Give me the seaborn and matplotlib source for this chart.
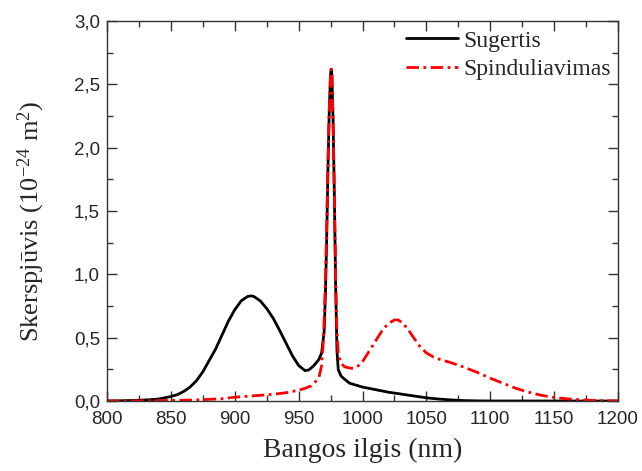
import numpy as np
import pandas as pd
import seaborn as sns
import matplotlib
matplotlib.use("Agg")
import matplotlib.pyplot as plt
from matplotlib.ticker import FuncFormatter, MultipleLocator

# --- data ---
abs_wl = [800, 810, 820, 830, 840, 850, 855, 860, 865, 870, 875, 880, 885, 890, 895,
          900, 905, 910, 913, 915, 920, 925, 930, 935, 940, 945, 950, 955, 958, 962,
          966, 968, 970, 971, 972, 973, 974, 975, 975.5, 976, 977, 978, 979, 980, 981,
          983, 985, 990, 1000, 1010, 1020, 1030, 1040, 1050, 1060, 1070, 1080, 1090,
          1100, 1200]
abs_val = [0.0, 0.002, 0.004, 0.008, 0.015, 0.035, 0.05, 0.075, 0.11, 0.16, 0.23, 0.32,
           0.41, 0.52, 0.63, 0.72, 0.79, 0.825, 0.83, 0.825, 0.79, 0.73, 0.655, 0.56,
           0.46, 0.36, 0.28, 0.24, 0.245, 0.28, 0.33, 0.38, 0.55, 0.85, 1.3, 1.85, 2.3,
           2.58, 2.62, 2.58, 2.2, 1.6, 0.9, 0.4, 0.25, 0.2, 0.18, 0.14, 0.11, 0.09, 0.07,
           0.055, 0.04, 0.025, 0.015, 0.008, 0.003, 0.001, 0.0, 0.0]

em_wl = [800, 820, 840, 860, 870, 880, 890, 900, 910, 920, 930, 940, 950, 955, 960, 963,
         966, 968, 969.5, 971, 972, 973, 974, 975, 975.5, 976, 977, 978, 979, 980, 981,
         983, 986, 990, 993, 997, 1000, 1005, 1010, 1015, 1020, 1025, 1028, 1032, 1036,
         1040, 1045, 1050, 1055, 1060, 1070, 1080, 1090, 1100, 1110, 1120, 1130, 1140,
         1150, 1160, 1170, 1180, 1190, 1200]
em_val = [0.0, 0.001, 0.003, 0.006, 0.009, 0.013, 0.018, 0.03, 0.037, 0.045, 0.053,
          0.065, 0.085, 0.1, 0.12, 0.15, 0.19, 0.28, 0.5, 0.95, 1.4, 1.9, 2.3, 2.58,
          2.62, 2.58, 2.2, 1.6, 0.95, 0.55, 0.38, 0.3, 0.27, 0.26, 0.258, 0.28, 0.31,
          0.39, 0.47, 0.55, 0.61, 0.64, 0.64, 0.61, 0.56, 0.5, 0.43, 0.38, 0.35, 0.33,
          0.3, 0.265, 0.225, 0.18, 0.14, 0.1, 0.07, 0.045, 0.028, 0.017, 0.01, 0.005,
          0.002, 0.0]

series_names = ["Sugertis", "Spinduliavimas"]
x_label = "Bangos ilgis (nm)"
y_label = "Skerspjūvis (10$^{\\mathsf{-}24}$ m$^{2}$)"

df_abs = pd.DataFrame({"x": abs_wl, "y": abs_val})
df_em = pd.DataFrame({"x": em_wl, "y": em_val})

sns.set_style("ticks")
plt.rcParams["font.family"] = ["Liberation Sans", "DejaVu Sans"]
plt.rcParams["mathtext.fontset"] = "custom"
plt.rcParams["mathtext.rm"] = "Liberation Serif"
plt.rcParams["mathtext.it"] = "Liberation Serif:italic"
plt.rcParams["mathtext.sf"] = "Liberation Serif"

fig = plt.figure(figsize=(6.42, 4.71), dpi=100)
ax = fig.add_axes([107 / 642, 1 - 401 / 471, (618 - 107) / 642, (401 - 21) / 471])

sns.lineplot(data=df_abs, x="x", y="y", ax=ax, color="black", linewidth=2.0,
             label=series_names[0], estimator=None, sort=False)
sns.lineplot(data=df_em, x="x", y="y", ax=ax, color="red", linewidth=2.0,
             label=series_names[1], estimator=None, sort=False,
             linestyle=(0, (4.5, 1.6, 1.0, 1.6)))

ax.set_xlim(800, 1200)
ax.set_ylim(0, 3.0)
ax.xaxis.set_major_locator(MultipleLocator(50))
ax.xaxis.set_minor_locator(MultipleLocator(25))
ax.yaxis.set_major_locator(MultipleLocator(0.5))
ax.yaxis.set_minor_locator(MultipleLocator(0.25))
ax.yaxis.set_major_formatter(FuncFormatter(lambda v, p: f"{v:.1f}".replace(".", ",")))
ax.xaxis.set_major_formatter(FuncFormatter(lambda v, p: f"{int(round(v))}"))

ax.tick_params(which="both", direction="in", top=True, right=True, width=1.0,
               color="#333333")
ax.tick_params(which="major", length=7, labelsize=13.5)
ax.tick_params(axis="x", which="major", pad=7)
ax.tick_params(axis="y", which="major", pad=5)
ax.tick_params(which="minor", length=4)
for s in ax.spines.values():
    s.set_linewidth(1.0)
    s.set_color("#333333")

serif = ["Liberation Serif", "DejaVu Serif"]
ax.set_xlabel(x_label, family=serif, fontsize=20)
ax.set_ylabel(y_label, family=serif, fontsize=19)
ax.xaxis.set_label_coords(0.5, -0.097)
ax.yaxis.set_label_coords(-0.118, 0.474)

leg = ax.legend(loc="upper right", bbox_to_anchor=(0.987, 0.976), frameon=False,
                prop={"family": serif, "size": 17},
                handlelength=2.2, handletextpad=0.25, borderaxespad=0.0,
                borderpad=0.0, labelspacing=0.28)

fig.savefig("out.png", dpi=100)
